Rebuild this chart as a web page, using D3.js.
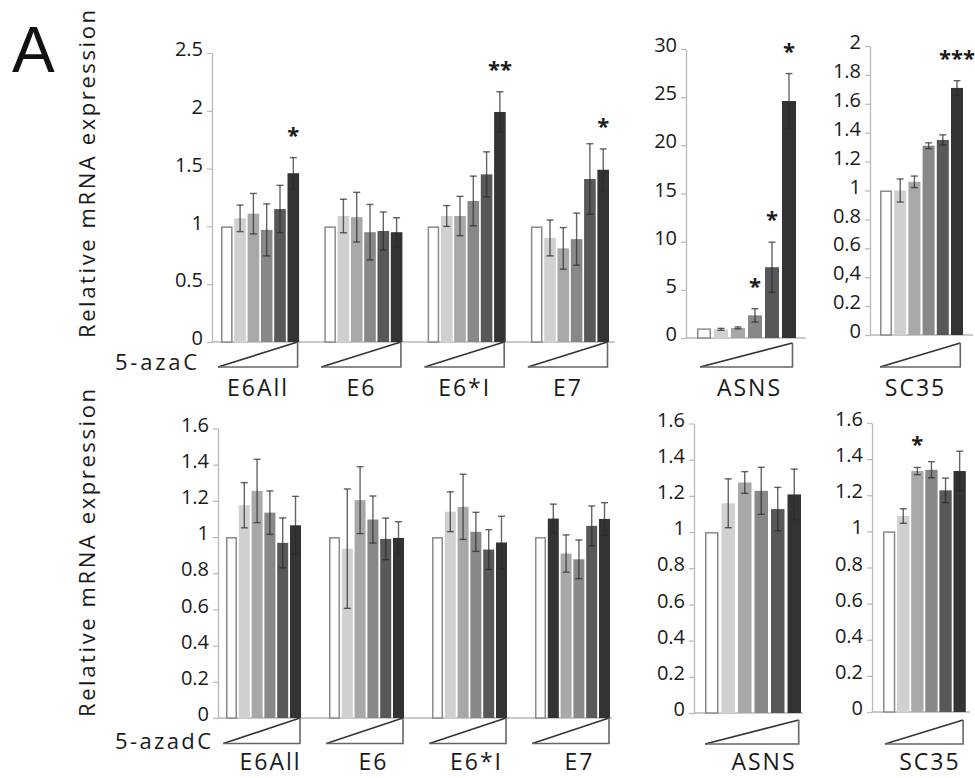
<!DOCTYPE html>
<html><head><meta charset="utf-8">
<script src="https://cdn.jsdelivr.net/npm/d3@7"></script>
<style>body{margin:0;background:#fff}</style>
</head><body><svg id="c" width="975" height="778"></svg>
<script>
// ---------- DATA ----------
const leftGenes = ["E6All","E6","E6*I","E7"];
const shades = ["#ffffff","#d0d0d2","#a8a8aa","#88888a","#58585a","#333335"];
const defaultShade = [0,1,2,3,4,5];
const dE7Shade = [0,5,2,3,4,5];

// 5-azaC (top row)
const aza_E6All = [1.00,1.07,1.11,0.97,1.15,1.46];
const aza_E6All_err = [0,0.115,0.175,0.225,0.205,0.135];
const aza_E6All_sig = ["","","","","","*"];
const aza_E6 = [1.00,1.09,1.08,0.95,0.96,0.95];
const aza_E6_err = [0,0.145,0.215,0.24,0.165,0.125];
const aza_E6_sig = ["","","","","",""];
const aza_E6I = [1.00,1.09,1.09,1.22,1.45,1.99];
const aza_E6I_err = [0,0.09,0.17,0.215,0.195,0.175];
const aza_E6I_sig = ["","","","","","**"];
const aza_E7 = [1.00,0.90,0.81,0.89,1.41,1.49];
const aza_E7_err = [0,0.155,0.18,0.225,0.305,0.18];
const aza_E7_sig = ["","","","","","*"];
const aza_ASNS = [1.00,0.90,1.05,2.35,7.35,24.6];
const aza_ASNS_err = [0,0.1,0.1,0.69,2.6,2.85];
const aza_ASNS_sig = ["","","","*","*","*"];
const aza_SC35 = [1.00,1.00,1.06,1.31,1.35,1.71];
const aza_SC35_err = [0,0.08,0.04,0.02,0.035,0.05];
const aza_SC35_sig = ["","","","","","***"];

// 5-azadC (bottom row)
const dz_E6All = [1.00,1.176,1.255,1.135,0.968,1.065];
const dz_E6All_err = [0,0.125,0.175,0.12,0.138,0.16];
const dz_E6 = [1.00,0.936,1.204,1.097,0.99,0.995];
const dz_E6_err = [0,0.33,0.185,0.13,0.115,0.09];
const dz_E6I = [1.00,1.14,1.167,1.029,0.931,0.97];
const dz_E6I_err = [0,0.11,0.18,0.108,0.11,0.145];
const dz_E7 = [1.00,1.102,0.909,0.877,1.062,1.10];
const dz_E7_err = [0,0.08,0.103,0.107,0.11,0.09];
const dz_ASNS = [1.00,1.159,1.274,1.228,1.127,1.208];
const dz_ASNS_err = [0,0.135,0.06,0.13,0.12,0.14];
const dz_SC35 = [1.00,1.085,1.334,1.341,1.227,1.334];
const dz_SC35_err = [0,0.04,0.02,0.045,0.068,0.11];
const dz_SC35_sig = ["","","*","","",""];
const noSig = ["","","","","",""];

// ticks
const azaTicks = [0,0.5,1,1.5,2,2.5];
const azaTickLabels = ["0","0.5","1","1.5","2","2.5"];
const asnsTicks = [0,5,10,15,20,25,30];
const asnsTickLabels = ["0","5","10","15","20","25","30"];
const sc35Ticks = [0,0.2,0.4,0.6,0.8,1,1.2,1.4,1.6,1.8,2];
const sc35TickLabels = ["0","0.2","0,4","0.6","0.8","1","1.2","1.4","1.6","1.8","2"];
const dzTicks = [0,0.2,0.4,0.6,0.8,1,1.2,1.4,1.6];
const dzTickLabels = ["0","0.2","0.4","0.6","0.8","1","1.2","1.4","1.6"];

const yTitle = "Relative mRNA expression";
const treatTop = "5-azaC";
const treatBottom = "5-azadC";
const panelLetter = "A";

// ---------- DRAW ----------
const svg = d3.select("#c");
const FONT = "'Open Sans', sans-serif";
const TXT = "#1a1a1a";

function cat(name, means, errs, sig, shade){ return {name, means, errs, sig, shade}; }

function drawPanel(p){
  const y = d3.scaleLinear().domain([0,p.max]).range([p.base,p.top]);
  const gx = d3.scaleBand().domain(p.cats.map(c=>c.name)).range([p.start, p.start + p.cats.length*p.gp]);
  const bx = d3.scaleBand().domain(d3.range(6)).range([0, 5*p.bp + p.bw]).paddingInner(1 - p.bw/p.bp).paddingOuter(0);

  // baseline
  svg.append("line").attr("x1",p.ax).attr("x2",p.end).attr("y1",p.base).attr("y2",p.base)
    .attr("stroke","#b8b8b8").attr("stroke-width",1.4);

  const ax = d3.axisLeft(y).tickValues(p.ticks).tickFormat((d,i)=>p.labels[i])
    .tickSize(5).tickSizeOuter(0).tickPadding(4);
  const g = svg.append("g").attr("transform",`translate(${p.ax},0)`).call(ax)
    .attr("font-family",FONT).attr("font-size",20);
  g.select(".domain").attr("stroke","#b8b8b8").attr("stroke-width",1.3);
  g.selectAll(".tick line").attr("stroke","#b8b8b8").attr("stroke-width",1.2);
  g.selectAll(".tick text").attr("fill",TXT).attr("dy","0.13em");

  p.cats.forEach(c=>{
    const x0 = gx(c.name);
    const data = d3.range(6).map(i=>({v:c.means[i], e:c.errs[i], s:c.shade[i], sig:c.sig[i], x:x0+bx(i)}));
    const bw = bx.bandwidth();
    data.forEach(d=>{
      const white = d.s===0;
      svg.append("rect")
        .attr("x", d.x + (white?0.75:0)).attr("y", y(d.v) + (white?0.75:0))
        .attr("width", bw - (white?1.5:0)).attr("height", p.base - y(d.v) - (white?0.75:0))
        .attr("fill", shades[d.s]).attr("stroke", white?"#8a8a8a":"none").attr("stroke-width",1.5);
    });
    data.forEach(d=>{
      if(d.e>0){
        const cx = d.x + bw/2;
        const eg = svg.append("g").attr("stroke","#2a2a2a").attr("stroke-opacity",0.72).attr("stroke-width",1.4);
        eg.append("line").attr("x1",cx).attr("x2",cx).attr("y1",y(d.v+d.e)).attr("y2",y(d.v-d.e));
        eg.append("line").attr("x1",cx-3.5).attr("x2",cx+3.5).attr("y1",y(d.v+d.e)).attr("y2",y(d.v+d.e));
        eg.append("line").attr("x1",cx-3.5).attr("x2",cx+3.5).attr("y1",y(d.v-d.e)).attr("y2",y(d.v-d.e));
      }
      if(d.sig){
        svg.append("text").attr("x", d.x + bw/2).attr("y", y(d.v+d.e) - 15)
          .attr("text-anchor","middle").attr("font-family",FONT).attr("font-size",22)
          .attr("font-weight","bold").attr("fill",TXT).text(d.sig);
      }
    });
    // wedge
    const wl = x0 + p.dl, wr = x0 + bx(5) + bw + p.dr;
    svg.append("path").attr("d",`M${wl},${p.wBot}L${wr},${p.wTop}`).attr("stroke","#333").attr("stroke-width",1.6).attr("fill","none");
    svg.append("path").attr("d",`M${wl},${p.wBot}L${wr},${p.wBot}L${wr},${p.wTop}`).attr("stroke","#666").attr("stroke-width",1.6).attr("fill","none");
    // label
    svg.append("text").attr("x", x0 + (bx(5)+bw)/2 + p.ldx + 1).attr("y", p.labelY)
      .attr("text-anchor","middle").attr("font-family",FONT).attr("font-size",23)
      .attr("letter-spacing","2px").attr("fill",TXT).text(c.name);
  });
}

// top row
drawPanel({ax:212, base:342, top:53, max:2.5, start:221, gp:103.3, bp:13.3, bw:11.6, end:615,
  dl:-3, dr:-1.5, wTop:342, wBot:367, labelY:396, ldx:-3, ticks:azaTicks, labels:azaTickLabels,
  cats:[cat(leftGenes[0],aza_E6All,aza_E6All_err,aza_E6All_sig,defaultShade),
        cat(leftGenes[1],aza_E6,aza_E6_err,aza_E6_sig,defaultShade),
        cat(leftGenes[2],aza_E6I,aza_E6I_err,aza_E6I_sig,defaultShade),
        cat(leftGenes[3],aza_E7,aza_E7_err,aza_E7_sig,defaultShade)]});
drawPanel({ax:686, base:338, top:49, max:30, start:697, gp:120, bp:17, bw:14, end:806,
  dl:3, dr:-3.5, wTop:343, wBot:367, labelY:396, ldx:2, ticks:asnsTicks, labels:asnsTickLabels,
  cats:[cat("ASNS",aza_ASNS,aza_ASNS_err,aza_ASNS_sig,defaultShade)]});
drawPanel({ax:870, base:335, top:46, max:2, start:880, gp:100, bp:14.2, bw:12, end:973,
  dl:0, dr:-2.7, wTop:343, wBot:367, labelY:396, ldx:-7, ticks:sc35Ticks, labels:sc35TickLabels,
  cats:[cat("SC35",aza_SC35,aza_SC35_err,aza_SC35_sig,defaultShade)]});

// bottom row
drawPanel({ax:218, base:718, top:428.5, max:1.6, start:226, gp:103, bp:12.8, bw:11, end:612,
  dl:-2.7, dr:-1, wTop:718, wBot:743.5, labelY:770, ldx:6, ticks:dzTicks, labels:dzTickLabels,
  cats:[cat(leftGenes[0],dz_E6All,dz_E6All_err,noSig,defaultShade),
        cat(leftGenes[1],dz_E6,dz_E6_err,noSig,defaultShade),
        cat(leftGenes[2],dz_E6I,dz_E6I_err,noSig,defaultShade),
        cat(leftGenes[3],dz_E7,dz_E7_err,noSig,dE7Shade)]});
drawPanel({ax:694, base:713, top:423.5, max:1.6, start:705, gp:120, bp:16.5, bw:13.5, end:803,
  dl:0, dr:-2.3, wTop:720, wBot:744, labelY:770, ldx:10, ticks:dzTicks, labels:dzTickLabels,
  cats:[cat("ASNS",dz_ASNS,dz_ASNS_err,noSig,defaultShade)]});
drawPanel({ax:872, base:712, top:423, max:1.6, start:883, gp:100, bp:14.1, bw:12.3, end:970,
  dl:2, dr:-2.7, wTop:720, wBot:744, labelY:770, ldx:4.5, ticks:dzTicks, labels:dzTickLabels,
  cats:[cat("SC35",dz_SC35,dz_SC35_err,dz_SC35_sig,defaultShade)]});

// titles
[[174,yTitle],[553,yTitle]].forEach(([cy,t])=>{
  svg.append("text").attr("transform",`translate(95,${cy}) rotate(-90)`)
    .attr("text-anchor","middle").attr("font-family",FONT).attr("font-size",22)
    .attr("textLength",328).attr("lengthAdjust","spacing").attr("fill",TXT).text(t);
});
svg.append("text").attr("x",115).attr("y",370).attr("font-family",FONT).attr("font-size",22)
  .attr("textLength",82).attr("lengthAdjust","spacing").attr("fill",TXT).text(treatTop);
svg.append("text").attr("x",115).attr("y",749).attr("font-family",FONT).attr("font-size",22)
  .attr("textLength",96).attr("lengthAdjust","spacing").attr("fill",TXT).text(treatBottom);
svg.append("text").attr("x",12).attr("y",72).attr("font-family","'Liberation Sans', Arial, sans-serif")
  .attr("font-size",64).attr("fill","#111").text(panelLetter);
</script></body></html>
